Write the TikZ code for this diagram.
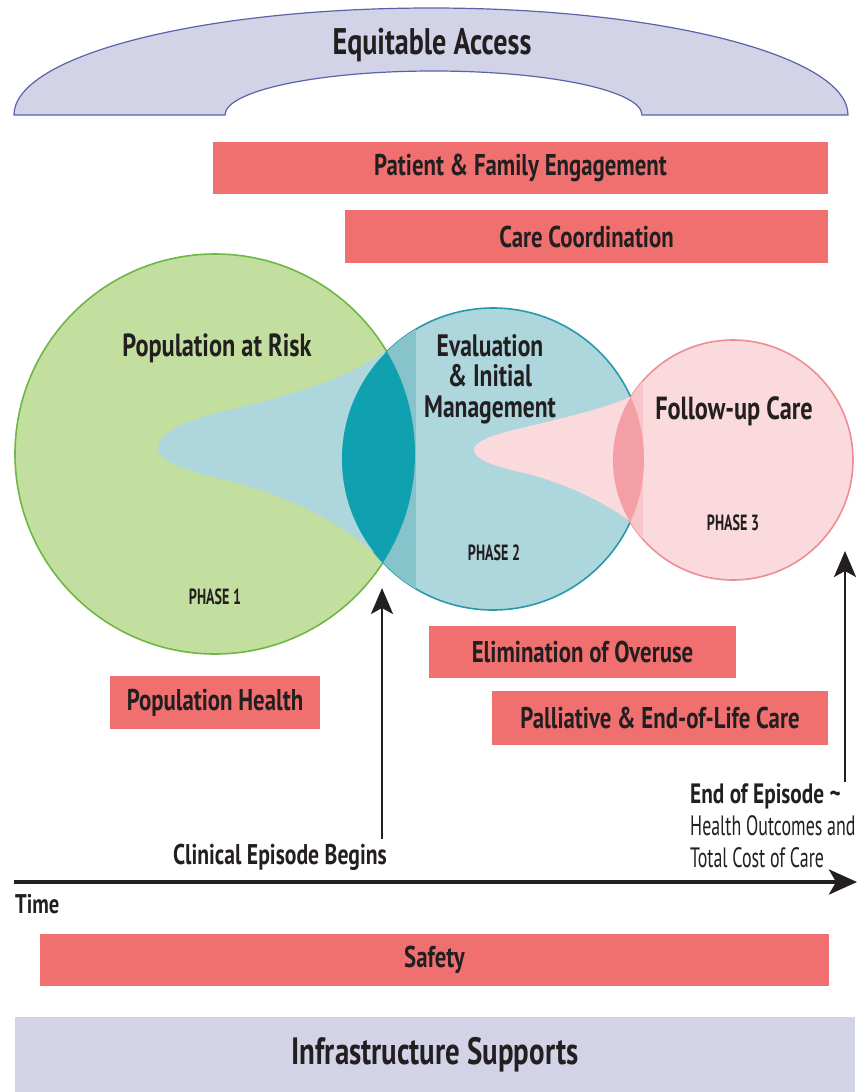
\documentclass[tikz,border=0pt]{standalone}
\usepackage{fontspec}
\setmainfont{PT Sans}[FakeStretch=0.76]
\newfontfamily\phasefont{PT Sans}[FakeStretch=0.64]
\usetikzlibrary{positioning,arrows.meta}
\definecolor{barred}{HTML}{F07070}
\definecolor{lavender}{HTML}{D3D3E8}
\definecolor{archline}{HTML}{5A63AA}
\definecolor{riskfill}{HTML}{C3DF9F}
\definecolor{riskline}{HTML}{6DB744}
\definecolor{evalfill}{HTML}{ADD6DD}
\definecolor{evalline}{HTML}{2799A9}
\definecolor{evalstrip}{HTML}{86C3CB}
\definecolor{lensteal}{HTML}{10A1B1}
\definecolor{follfill}{HTML}{FADADC}
\definecolor{follline}{HTML}{EE8D93}
\definecolor{follstrip}{HTML}{F7C6CA}
\definecolor{lenspink}{HTML}{F49EA6}
\definecolor{ink}{HTML}{231F20}
\newcommand{\fsz}[2]{\fontsize{#1}{#2}\selectfont}
\tikzset{%
	bar/.style={%
		rectangle,
		fill=barred,
		inner sep=0pt,
		minimum height=52pt,
		text=ink,
		font=\fsz{30}{32}\bfseries
	},
	support/.style={rectangle, fill=lavender, inner sep=0pt, text=ink, font=\fsz{38}{40}\bfseries},
	phase/.style={circle, inner sep=0pt, line width=1.6pt},
	title/.style={text=ink, inner sep=0pt, align=center, font=\fsz{31}{30.5}\bfseries},
	phaselbl/.style={text=ink, inner sep=0pt, font=\fsz{22}{24}\phasefont\bfseries},
	marker/.style={text=ink, inner sep=0pt, font=\fsz{28}{32}\phasefont},
	timeline/.style={draw=ink, line width=4pt, -{Stealth[length=28pt,width=25pt,inset=7pt]}},
	uparrow/.style={draw=ink, line width=2.8pt, -{Stealth[length=26pt,width=22pt,inset=6pt]}}
}
\begin{document}
\begin{tikzpicture}[x=1pt, y=-1pt]
	\useasboundingbox (0,0) rectangle (859,1092);
	% arch on top
	\draw[fill=lavender, draw=archline, line width=1.2pt] (14,115) arc[start angle=180, end angle=360, x radius=417, y radius=107]
		-- (642,115) arc[start angle=0, end angle=-180, x radius=208.5, y radius=44] -- cycle;
	\node[text=ink, font=\fsz{37}{40}\bfseries] (access) at (432,45) {Equitable Access};

	\node[bar, minimum width=615pt] (engage) at (520.5,168) {Patient \& Family Engagement};
	\node[bar, minimum width=483pt, minimum height=53pt] (coord) at (586.5,236.5) {Care Coordination};

	% the three phases
	\node[phase, fill=riskfill, draw=riskline, minimum size=400pt] (risk) at (215,454) {};
	\node[phase, fill=evalfill, draw=evalline, minimum size=302pt] (evalc) at (493,459) {};
	\node[phase, fill=follfill, draw=follline, minimum size=240pt] (foll) at (733,460) {};

	\fill[evalfill] (385,352) .. controls (342,382) and (280,398) .. (220,412) .. controls (172,424) and (158,438) .. (158,448)
		.. controls (158,458) and (175,468) .. (225,480) .. controls (290,495) and (345,525) .. (385,562) -- cycle;
	\begin{scope}
		\clip (evalc.center) circle[radius=151];
		\fill[evalstrip] (330,290) rectangle (416,630);
	\end{scope}
	\begin{scope}
		\clip (risk.center) circle[radius=200];
		\fill[lensteal] (evalc.center) circle[radius=151];
	\end{scope}

	\fill[follfill] (630,397) .. controls (600,410) and (562,418) .. (522,428) .. controls (486,436) and (474,443) .. (474,450)
		.. controls (474,458) and (488,465) .. (524,473) .. controls (565,483) and (600,500) .. (630,521) -- cycle;
	\begin{scope}
		\clip (foll.center) circle[radius=120];
		\fill[follstrip] (600,330) rectangle (643,590);
	\end{scope}
	\begin{scope}
		\clip (evalc.center) circle[radius=151];
		\fill[lenspink] (foll.center) circle[radius=120];
	\end{scope}

	\node[title, font=\fsz{32}{32}\bfseries] (risklbl) at (217,348) {Population at Risk};
	\node[title] (evallbl) at (490,379) {Evaluation\\\& Initial\\Management};
	\node[title, font=\fsz{32}{32}\bfseries] (folllbl) at (734,411) {Follow-up Care};
	\node[phaselbl] (ph1) at (215,597) {PHASE 1};
	\node[phaselbl] (ph2) at (494,553) {PHASE 2};
	\node[phaselbl] (ph3) at (733,523) {PHASE 3};

	\node[bar, minimum width=307pt] (overuse) at (582.5,652) {Elimination of Overuse};
	\node[bar, minimum width=336pt, minimum height=54pt] (palliative) at (660,718) {Palliative \& End-of-Life Care};
	\node[bar, minimum width=210pt, minimum height=53pt] (pophealth) at (215,702.5) {Population Health};

	% time and episode markers
	\coordinate (tstart) at (14,882);
	\coordinate (tend) at (857,882);
	\draw[timeline] (tstart) -- (tend);
	\node[marker, font=\fsz{27}{28}\bfseries, anchor=west] (time) at (15,904) {Time};

	\node[marker, font=\fsz{28.5}{30}\bfseries, anchor=east] (begins) at (387,857) {Clinical Episode Begins};
	\coordinate (cbot) at (382,839);
	\coordinate (ctop) at (382,588);
	\draw[uparrow] (cbot) -- (ctop);

	\node[marker, align=left, anchor=west] (endep) at (690,826) {{\fsz{28}{32}\rmfamily\bfseries End of Episode \textasciitilde}\\Health Outcomes and\\Total Cost of Care};
	\coordinate (ebot) at (845,782);
	\coordinate (etop) at (845,551);
	\draw[uparrow] (ebot) -- (etop);

	% bottom bands
	\node[bar, minimum width=789pt] (safety) at (434.5,960) {Safety};
	\node[support, minimum width=840pt, minimum height=76pt] (infra) at (435,1055) {Infrastructure Supports};
\end{tikzpicture}
\end{document}
